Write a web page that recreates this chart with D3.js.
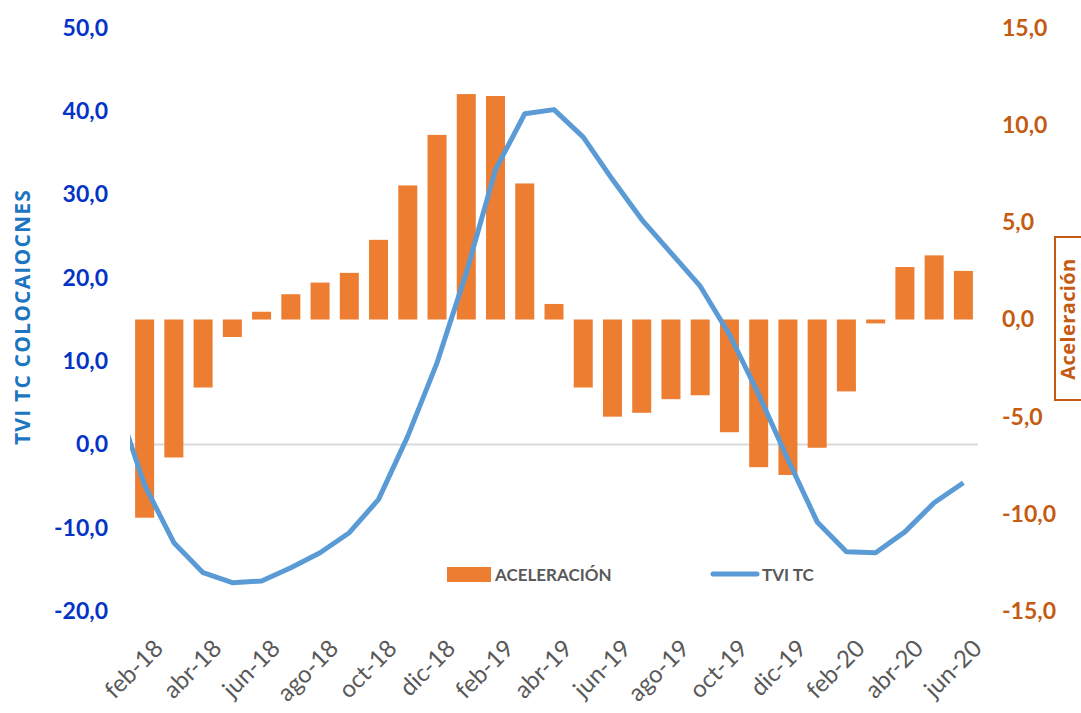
<!DOCTYPE html>
<html>
<head>
<meta charset="utf-8">
<script src="https://cdn.jsdelivr.net/npm/d3@7"></script>
<style>
  body { margin: 0; background: #fff; }
  svg { display: block; font-family: Lato, "Open Sans", sans-serif; }
</style>
</head>
<body>
<div id="chart-area"></div>
<script>

const W = 1081
const H = 713

const PLOT = {
    LEFT: 130,
    RIGHT: 978,
    TOP: 28,
    BOTTOM: 611
}

const months = ['feb-18', 'mar-18', 'abr-18', 'may-18', 'jun-18', 'jul-18', 'ago-18', 'sep-18',
    'oct-18', 'nov-18', 'dic-18', 'ene-19', 'feb-19', 'mar-19', 'abr-19', 'may-19', 'jun-19',
    'jul-19', 'ago-19', 'sep-19', 'oct-19', 'nov-19', 'dic-19', 'ene-20', 'feb-20', 'mar-20',
    'abr-20', 'may-20', 'jun-20']

const tickMonths = ['feb-18', 'abr-18', 'jun-18', 'ago-18', 'oct-18', 'dic-18', 'feb-19',
    'abr-19', 'jun-19', 'ago-19', 'oct-19', 'dic-19', 'feb-20', 'abr-20', 'jun-20']

// aceleración (eje derecho)
const aceleracion = [-10.2, -7.1, -3.5, -0.9, 0.4, 1.3, 1.9, 2.4, 4.1, 6.9, 9.5, 11.6, 11.5,
    7.0, 0.8, -3.5, -5.0, -4.8, -4.1, -3.9, -5.8, -7.6, -8.0, -6.6, -3.7, -0.2, 2.7, 3.3, 2.5]

// TVI TC (eje izquierdo), ene-18 queda fuera del área y se recorta
const tviPrev = 5.5
const tvi = [-4.9, -11.8, -15.4, -16.6, -16.4, -14.8, -13.0, -10.6, -6.6, 1.0, 9.8, 20.6, 33.0,
    39.7, 40.2, 36.9, 31.8, 27.0, 23.0, 19.0, 13.2, 6.0, -1.8, -9.3, -12.9, -13.0, -10.5, -7.0, -4.6]

const leftTicks = [-20, -10, 0, 10, 20, 30, 40, 50]
const rightTicks = [-15, -10, -5, 0, 5, 10, 15]

const locale = d3.formatLocale({ decimal: ',', thousands: '.', grouping: [3], currency: ['', '€'], minus: '-' })
const fmt = locale.format('.1f')

const svg = d3.select('#chart-area').append('svg')
    .attr('width', W)
    .attr('height', H)

const x = d3.scaleBand()
    .domain(months)
    .range([PLOT.LEFT, PLOT.RIGHT])
    .paddingInner(0.35)
    .paddingOuter(0.175)

const yL = d3.scaleLinear().domain([-20, 50]).range([PLOT.BOTTOM, PLOT.TOP])
const yR = d3.scaleLinear().domain([-15, 15]).range([PLOT.BOTTOM, PLOT.TOP])

svg.append('defs').append('clipPath').attr('id', 'plot-clip')
    .append('rect')
    .attr('x', PLOT.LEFT)
    .attr('y', 0)
    .attr('width', PLOT.RIGHT - PLOT.LEFT)
    .attr('height', H)

// zero line of left axis
svg.append('line')
    .attr('x1', PLOT.LEFT)
    .attr('x2', PLOT.RIGHT)
    .attr('y1', yL(0))
    .attr('y2', yL(0))
    .attr('stroke', '#d9d9d9')
    .attr('stroke-width', 2)

// bars
svg.append('g').selectAll('rect')
    .data(aceleracion)
    .enter().append('rect')
    .attr('x', (d, i) => x(months[i]))
    .attr('width', x.bandwidth())
    .attr('y', d => yR(Math.max(0, d)))
    .attr('height', d => Math.abs(yR(d) - yR(0)))
    .attr('fill', '#ed7d31')

// line
const cx = (i) => x(months[0]) + x.bandwidth() / 2 + i * x.step()
const linePts = [[cx(-1), yL(tviPrev)]].concat(tvi.map((d, i) => [cx(i), yL(d)]))

svg.append('path')
    .attr('clip-path', 'url(#plot-clip)')
    .attr('d', d3.line()(linePts))
    .attr('fill', 'none')
    .attr('stroke', '#5b9bd5')
    .attr('stroke-width', 5)
    .attr('stroke-linejoin', 'round')

// left axis
const gL = svg.append('g')
    .attr('transform', `translate(${108}, 0)`)
    .call(d3.axisLeft(yL).tickValues(leftTicks).tickFormat(fmt).tickSize(0).tickPadding(0))
gL.select('.domain').remove()
gL.selectAll('text')
    .attr('fill', '#0433c6')
    .attr('font-size', 23)
    .attr('font-weight', 'bold')
    .attr('font-family', 'Lato, sans-serif')

// right axis
const gR = svg.append('g')
    .attr('transform', `translate(${1002}, 0)`)
    .call(d3.axisRight(yR).tickValues(rightTicks).tickFormat(fmt).tickSize(0).tickPadding(0))
gR.select('.domain').remove()
gR.selectAll('text')
    .attr('fill', '#c55a11')
    .attr('font-size', 23)
    .attr('font-weight', 'bold')
    .attr('font-family', 'Lato, sans-serif')

// x axis labels
svg.append('g').selectAll('text')
    .data(tickMonths)
    .enter().append('text')
    .attr('transform', d => `translate(${x(d) + x.bandwidth() / 2 + 8}, ${638}) rotate(-45)`)
    .attr('text-anchor', 'end')
    .attr('dy', '0.7em')
    .attr('font-size', 24)
    .attr('fill', '#595959')
    .text(d => d)

// axis titles
svg.append('text')
    .attr('transform', `translate(${30}, ${317}) rotate(-90)`)
    .attr('text-anchor', 'middle')
    .attr('font-family', '"Open Sans", sans-serif')
    .attr('font-weight', 'bold')
    .attr('font-size', 21)
    .attr('letter-spacing', 1.2)
    .attr('fill', '#1b75c0')
    .text('TVI TC COLOCAIOCNES')

svg.append('rect')
    .attr('x', 1055)
    .attr('y', 237)
    .attr('width', 40)
    .attr('height', 163)
    .attr('fill', 'none')
    .attr('stroke', '#c55a11')
    .attr('stroke-width', 2)

svg.append('text')
    .attr('transform', `translate(${1075}, ${319}) rotate(-90)`)
    .attr('text-anchor', 'middle')
    .attr('font-family', '"Open Sans", sans-serif')
    .attr('font-weight', 'bold')
    .attr('font-size', 20)
    .attr('letter-spacing', 0.4)
    .attr('fill', '#c55a11')
    .text('Aceleración')

// legend
const legend = svg.append('g')
legend.append('rect')
    .attr('x', 447).attr('y', 567)
    .attr('width', 44).attr('height', 15)
    .attr('fill', '#ed7d31')
legend.append('text')
    .attr('x', 495).attr('y', 575)
    .attr('dy', '0.35em')
    .attr('font-size', 17)
    .attr('font-weight', 'bold')
    .attr('fill', '#595959')
    .text('ACELERACIÓN')
legend.append('line')
    .attr('x1', 713).attr('x2', 757)
    .attr('y1', 574).attr('y2', 574)
    .attr('stroke', '#5b9bd5')
    .attr('stroke-width', 5)
    .attr('stroke-linecap', 'round')
legend.append('text')
    .attr('x', 762).attr('y', 575)
    .attr('dy', '0.35em')
    .attr('font-size', 17)
    .attr('font-weight', 'bold')
    .attr('fill', '#595959')
    .text('TVI TC')

</script>
</body>
</html>
